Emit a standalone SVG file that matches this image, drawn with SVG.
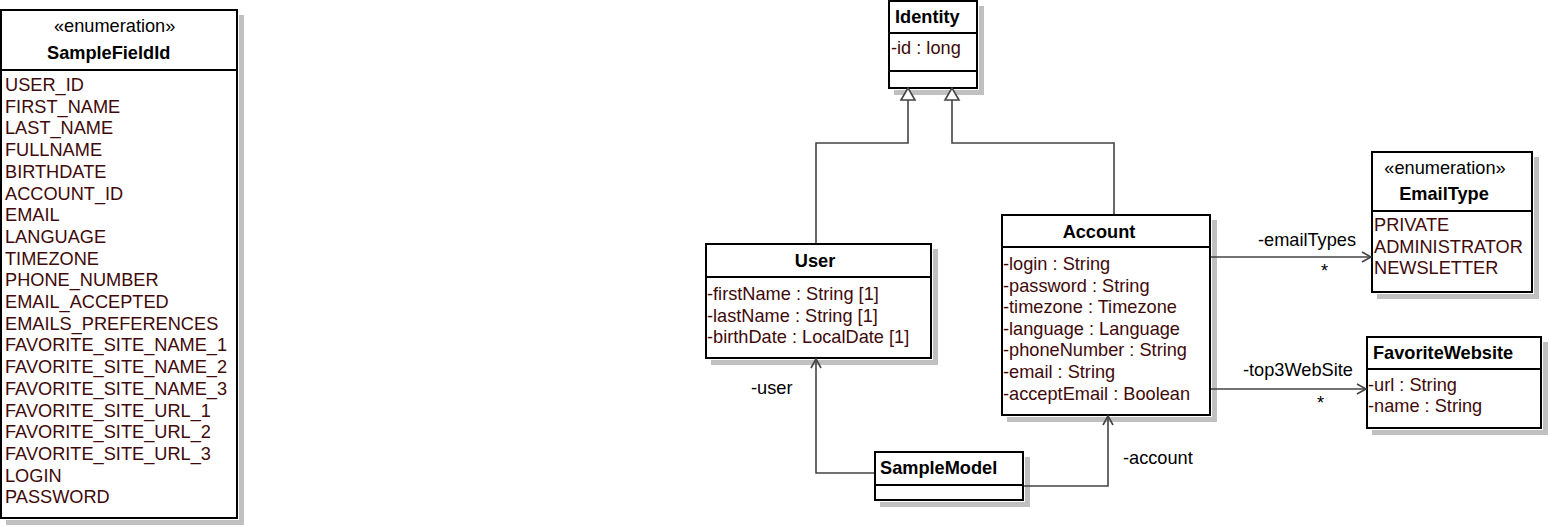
<svg xmlns="http://www.w3.org/2000/svg" width="1549" height="527" viewBox="0 0 1549 527">
  <style>
    text { font-family: "Liberation Sans", Arial, sans-serif; font-size: 18.2px; fill: #000; }
    .title { font-weight: bold; }
    .attr { fill: #400a0a; }
    .shadow { fill: #c0c0c0; }
    .under { fill: #fff; }
    .box { fill: #fff; stroke: #000; stroke-width: 2; }
    .div { stroke: #000; stroke-width: 2; }
    .conn { fill: none; stroke: #444; stroke-width: 1.6; }
    .gen { fill: #fff; stroke: #444; stroke-width: 1.6; }
  </style>

  <!-- enumeration SampleFieldId -->
  <g id="SampleFieldId">
    <rect class="shadow" x="6" y="15" width="238" height="510"/>
    <rect class="under" x="0" y="9" width="239" height="511"/>
    <rect class="box" x="1" y="10" width="236" height="508"/>
    <line class="div" x1="1" y1="70" x2="237" y2="70"/>
    <text x="54" y="32">«enumeration»</text>
    <text class="title" x="47" y="59">SampleFieldId</text>
    <text class="attr" x="5" y="91">USER_ID</text>
    <text class="attr" x="5" y="112.7">FIRST_NAME</text>
    <text class="attr" x="5" y="134.4">LAST_NAME</text>
    <text class="attr" x="5" y="156.1">FULLNAME</text>
    <text class="attr" x="5" y="177.8">BIRTHDATE</text>
    <text class="attr" x="5" y="199.5">ACCOUNT_ID</text>
    <text class="attr" x="5" y="221.2">EMAIL</text>
    <text class="attr" x="5" y="242.9">LANGUAGE</text>
    <text class="attr" x="5" y="264.6">TIMEZONE</text>
    <text class="attr" x="5" y="286.3">PHONE_NUMBER</text>
    <text class="attr" x="5" y="308">EMAIL_ACCEPTED</text>
    <text class="attr" x="5" y="329.7">EMAILS_PREFERENCES</text>
    <text class="attr" x="5" y="351.4">FAVORITE_SITE_NAME_1</text>
    <text class="attr" x="5" y="373.1">FAVORITE_SITE_NAME_2</text>
    <text class="attr" x="5" y="394.8">FAVORITE_SITE_NAME_3</text>
    <text class="attr" x="5" y="416.5">FAVORITE_SITE_URL_1</text>
    <text class="attr" x="5" y="438.2">FAVORITE_SITE_URL_2</text>
    <text class="attr" x="5" y="459.9">FAVORITE_SITE_URL_3</text>
    <text class="attr" x="5" y="481.6">LOGIN</text>
    <text class="attr" x="5" y="503.3">PASSWORD</text>
  </g>

  <!-- class Identity -->
  <g id="Identity">
    <rect class="shadow" x="894" y="6" width="90" height="89"/>
    <rect class="under" x="888" y="0" width="91" height="90"/>
    <rect class="box" x="889" y="1" width="88" height="87"/>
    <line class="div" x1="889" y1="33" x2="977" y2="33"/>
    <line class="div" x1="889" y1="71" x2="977" y2="71"/>
    <text class="title" x="895" y="23">Identity</text>
    <text class="attr" x="891" y="54">-id : long</text>
  </g>

  <!-- class User -->
  <g id="User">
    <rect class="shadow" x="711" y="249" width="227" height="116"/>
    <rect class="under" x="705" y="243" width="228" height="117"/>
    <rect class="box" x="706" y="244" width="225" height="114"/>
    <line class="div" x1="706" y1="277" x2="931" y2="277"/>
    <text class="title" x="815" y="267" text-anchor="middle">User</text>
    <text class="attr" x="707" y="300">-firstName : String [1]</text>
    <text class="attr" x="707" y="321.6">-lastName : String [1]</text>
    <text class="attr" x="707" y="343.2">-birthDate : LocalDate [1]</text>
  </g>

  <!-- class Account -->
  <g id="Account">
    <rect class="shadow" x="1007" y="220" width="210" height="202"/>
    <rect class="under" x="1001" y="214" width="211" height="203"/>
    <rect class="box" x="1002" y="215" width="208" height="200"/>
    <line class="div" x1="1002" y1="247" x2="1210" y2="247"/>
    <text class="title" x="1099" y="238" text-anchor="middle">Account</text>
    <text class="attr" x="1003" y="270">-login : String</text>
    <text class="attr" x="1003" y="291.6">-password : String</text>
    <text class="attr" x="1003" y="313.2">-timezone : Timezone</text>
    <text class="attr" x="1003" y="334.8">-language : Language</text>
    <text class="attr" x="1003" y="356.4">-phoneNumber : String</text>
    <text class="attr" x="1003" y="378">-email : String</text>
    <text class="attr" x="1003" y="399.6">-acceptEmail : Boolean</text>
  </g>

  <!-- enumeration EmailType -->
  <g id="EmailType">
    <rect class="shadow" x="1377" y="157" width="162" height="142"/>
    <rect class="under" x="1371" y="151" width="163" height="143"/>
    <rect class="box" x="1372" y="152" width="160" height="140"/>
    <line class="div" x1="1372" y1="211" x2="1532" y2="211"/>
    <text x="1445" y="174" text-anchor="middle">«enumeration»</text>
    <text class="title" x="1444" y="200" text-anchor="middle">EmailType</text>
    <text class="attr" x="1374" y="231">PRIVATE</text>
    <text class="attr" x="1374" y="252.6">ADMINISTRATOR</text>
    <text class="attr" x="1374" y="274.2">NEWSLETTER</text>
  </g>

  <!-- class FavoriteWebsite -->
  <g id="FavoriteWebsite">
    <rect class="shadow" x="1372" y="342" width="176" height="93"/>
    <rect class="under" x="1366" y="336" width="177" height="94"/>
    <rect class="box" x="1367" y="337" width="174" height="91"/>
    <line class="div" x1="1367" y1="369" x2="1541" y2="369"/>
    <text class="title" x="1373" y="359">FavoriteWebsite</text>
    <text class="attr" x="1368" y="390.5">-url : String</text>
    <text class="attr" x="1368" y="412">-name : String</text>
  </g>

  <!-- class SampleModel -->
  <g id="SampleModel">
    <rect class="shadow" x="880" y="457" width="150" height="50"/>
    <rect class="under" x="874" y="451" width="151" height="51"/>
    <rect class="box" x="875" y="452" width="148" height="48"/>
    <line class="div" x1="875" y1="485" x2="1023" y2="485"/>
    <text class="title" x="880" y="474">SampleModel</text>
  </g>

  <!-- associations and generalizations -->
  <g id="connectors">
    <!-- User generalizes Identity -->
    <path class="conn" d="M816 243 V143 H908 V100"/>
    <polygon class="gen" points="908,88 901,100 915,100"/>
    <!-- Account generalizes Identity -->
    <path class="conn" d="M1114 214 V143 H952 V100"/>
    <polygon class="gen" points="952,88 945,100 959,100"/>
    <!-- Account -emailTypes EmailType -->
    <path class="conn" d="M1211 257 H1371"/>
    <path class="conn" d="M1362 252 L1371 257 L1362 262"/>
    <text x="1258" y="246">-emailTypes</text>
    <text x="1321" y="277">*</text>
    <!-- Account -top3WebSite FavoriteWebsite -->
    <path class="conn" d="M1211 389 H1366"/>
    <path class="conn" d="M1357 384 L1366 389 L1357 394"/>
    <text x="1243" y="376">-top3WebSite</text>
    <text x="1317" y="409">*</text>
    <!-- SampleModel -user User -->
    <path class="conn" d="M874 473 H816 V359"/>
    <path class="conn" d="M811 368 L816 359 L821 368"/>
    <text x="751" y="394">-user</text>
    <!-- SampleModel -account Account -->
    <path class="conn" d="M1024 486 H1108 V416"/>
    <path class="conn" d="M1103 425 L1108 416 L1113 425"/>
    <text x="1123" y="464">-account</text>
  </g>
</svg>
